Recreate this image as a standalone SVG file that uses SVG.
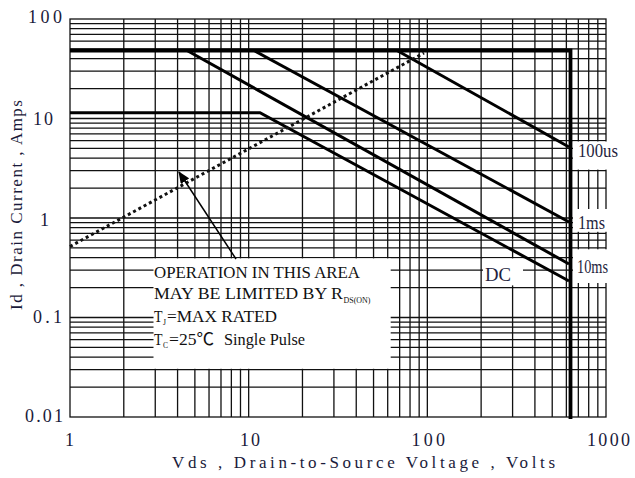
<svg xmlns="http://www.w3.org/2000/svg" width="635" height="478" viewBox="0 0 635 478">
<defs>
<style>
.grid{fill:none;stroke:#111;stroke-width:1.3}
.mask{fill:#fff;stroke:none}
.limit{fill:none;stroke:#000;stroke-width:3.8;stroke-linejoin:miter}
.curve{fill:none;stroke:#000;stroke-width:3;stroke-linecap:butt}
.rds{fill:none;stroke:#111;stroke-width:3;stroke-dasharray:3 3}
.tick{font-family:"Liberation Serif","Noto Sans CJK SC",serif;font-size:18px;fill:#1a1a3a}
.title{font-family:"Liberation Serif","Noto Sans CJK SC",serif;font-size:17px;fill:#1a1a3a}
.note{font-family:"Liberation Serif","Noto Sans CJK SC",serif;font-size:17px;fill:#111}
.sub{font-family:"Liberation Serif",serif;font-size:9px;fill:#111}
.lab{font-family:"Liberation Serif",serif;font-size:18px;fill:#1f1f40}
</style>
<marker id="ah" viewBox="0 0 12 10" refX="11" refY="5" markerWidth="12" markerHeight="10" markerUnits="userSpaceOnUse" orient="auto">
<path d="M0,0 L12,5 L0,10 Z" fill="#000"/>
</marker>
</defs>
<rect x="0" y="0" width="635" height="478" fill="#fff"/>

<g id="grid">
<path class="grid" d="M70 23.55H606M70 28.64H606M70 34.41H606M70 41.07H606M70 48.95H606M70 58.6H606M70 71.03H606M70 88.55H606M70 118.5H606M70 123.05H606M70 128.14H606M70 133.91H606M70 140.57H606M70 148.45H606M70 158.1H606M70 170.53H606M70 188.05H606M70 218H606M70 222.55H606M70 227.64H606M70 233.41H606M70 240.07H606M70 247.95H606M70 257.6H606M70 270.03H606M70 287.55H606M70 317.5H606M70 322.05H606M70 327.14H606M70 332.91H606M70 339.57H606M70 347.45H606M70 357.1H606M70 369.53H606M70 387.05H606"/>
<path class="grid" d="M123.79 19V417M155.25 19V417M177.57 19V417M194.88 19V417M209.03 19V417M220.99 19V417M231.36 19V417M240.49 19V417M248.67 19V417M302.46 19V417M333.92 19V417M356.24 19V417M373.55 19V417M387.7 19V417M399.66 19V417M410.03 19V417M419.16 19V417M427.34 19V417M481.13 19V417M512.59 19V417M534.91 19V417M552.22 19V417M566.37 19V417M578.33 19V417M588.7 19V417M597.83 19V417"/>
<rect class="grid" x="70" y="19" width="536" height="398"/>
</g>

<g id="masks">
<rect class="mask" x="153.5" y="258.4" width="237.2" height="110.4"/>
<rect class="mask" x="483" y="258.4" width="40" height="27"/>
<rect class="mask" x="573" y="141.5" width="40" height="28.1"/>
<rect class="mask" x="573" y="209" width="40" height="22.8"/>
<rect class="mask" x="573" y="249.3" width="40" height="33.7"/>
</g>

<g id="limits">
<path class="limit" d="M70 50.5H570.5V419"/>
<path class="curve" d="M70 112.7H260L569 281"/>
<path class="curve" d="M187 50.5L569 264"/>
<path class="curve" d="M254 50.5L569 222"/>
<path class="curve" d="M397 50.5L569 147"/>
<path class="rds" d="M70 246.5L424 53"/>
</g>

<g id="connectors">
<path d="M236 259L179 172" fill="none" stroke="#000" stroke-width="1.5" marker-end="url(#ah)"/>
</g>

<g id="yticks">
<text class="tick" x="28" y="23" textLength="34" lengthAdjust="spacing">100</text>
<text class="tick" x="33" y="124.5" textLength="20" lengthAdjust="spacing">10</text>
<text class="tick" x="40" y="226">1</text>
<text class="tick" x="33" y="323" textLength="29" lengthAdjust="spacing">0.1</text>
<text class="tick" x="25" y="421.5" textLength="38" lengthAdjust="spacing">0.01</text>
</g>
<g id="xticks">
<text class="tick" x="65" y="446">1</text>
<text class="tick" x="240" y="446" textLength="20" lengthAdjust="spacing">10</text>
<text class="tick" x="411.5" y="446" textLength="33.5" lengthAdjust="spacing">100</text>
<text class="tick" x="587" y="446" textLength="43" lengthAdjust="spacing">1000</text>
</g>
<g id="titles">
<text class="title" x="172" y="468" textLength="383" lengthAdjust="spacing">Vds , Drain-to-Source Voltage , Volts</text>
<text class="title" transform="translate(22,310) rotate(-90)" x="0" y="0" textLength="210" lengthAdjust="spacing">Id , Drain Current , Amps</text>
</g>

<g id="note">
<text class="note" x="154" y="278" textLength="206" lengthAdjust="spacingAndGlyphs">OPERATION IN THIS AREA</text>
<text class="note" x="154" y="299" textLength="189" lengthAdjust="spacingAndGlyphs">MAY BE LIMITED BY R</text>
<text class="sub" x="343.5" y="302.5" textLength="27" lengthAdjust="spacingAndGlyphs">DS(ON)</text>
<text class="note" x="154" y="322" textLength="8.5" lengthAdjust="spacingAndGlyphs">T</text>
<text class="sub" x="163" y="325" textLength="3" lengthAdjust="spacingAndGlyphs">J</text>
<text class="note" x="167" y="322" textLength="110" lengthAdjust="spacingAndGlyphs">=MAX RATED</text>
<text class="note" x="154" y="345" textLength="8.5" lengthAdjust="spacingAndGlyphs">T</text>
<text class="sub" x="163" y="348" textLength="5" lengthAdjust="spacingAndGlyphs">C</text>
<text class="note" x="169" y="345" textLength="45" lengthAdjust="spacingAndGlyphs">=25℃</text>
<text class="note" x="224" y="345" textLength="81" lengthAdjust="spacingAndGlyphs">Single Pulse</text>
</g>

<g id="labels">
<text class="lab" x="578" y="157" textLength="40" lengthAdjust="spacingAndGlyphs">100us</text>
<text class="lab" x="578" y="229" textLength="27" lengthAdjust="spacingAndGlyphs">1ms</text>
<text class="lab" x="577" y="272.5" textLength="31" lengthAdjust="spacingAndGlyphs">10ms</text>
<text class="lab" x="485" y="281" textLength="26" lengthAdjust="spacingAndGlyphs">DC</text>
</g>
</svg>
